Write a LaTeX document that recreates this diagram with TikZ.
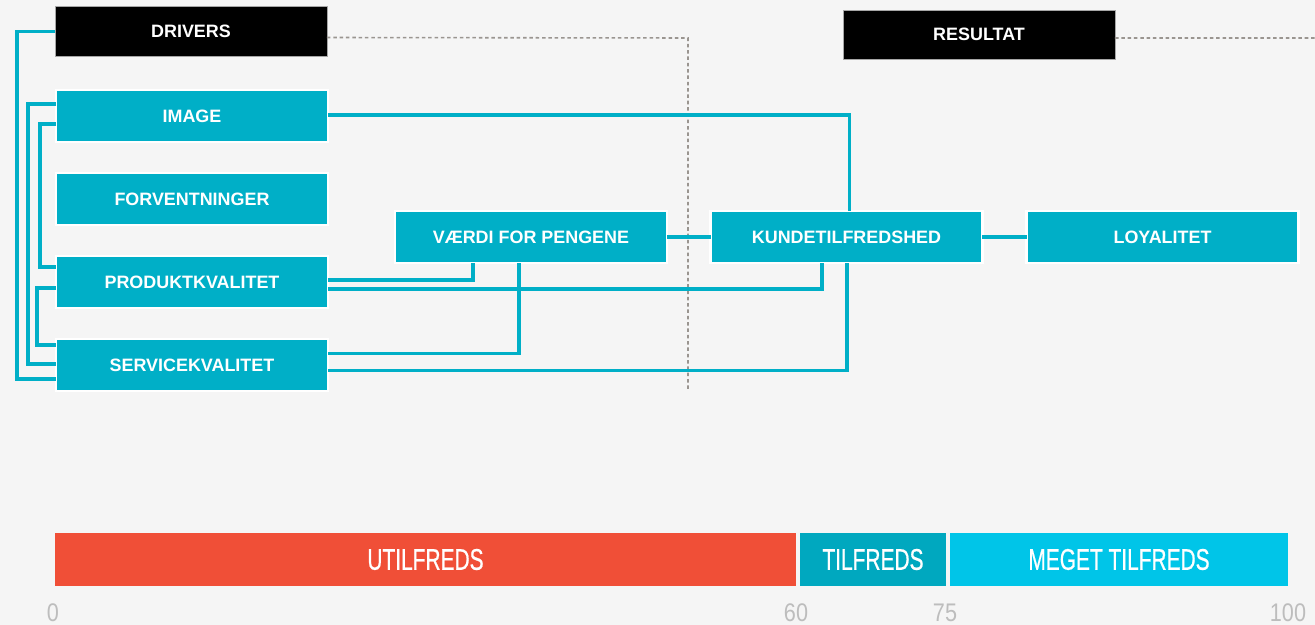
\documentclass[tikz,border=0pt]{standalone}
\usepackage{fontspec}
\setmainfont{Liberation Sans}
\newfontfamily\bandfont{Liberation Sans}[FakeStretch=0.7, FakeBold=0.6]
\newfontfamily\tickfont{Liberation Sans}[FakeStretch=0.85]
\usepackage{tikz}
\usetikzlibrary{positioning, calc}
\definecolor{cteal}{HTML}{00AFC7}
\definecolor{cdark}{HTML}{00A8BF}
\definecolor{clight}{HTML}{00C5E8}
\definecolor{cred}{HTML}{F04F37}
\definecolor{cback}{HTML}{F5F5F5}
\definecolor{cdash}{HTML}{9A9590}
\definecolor{ctick}{HTML}{BDBDBD}
\tikzset{
node distance=0.62cm,
Box/.style={
	draw=white, line width=1.2pt,
	fill=cteal, text=white,
	minimum width=5.44cm, minimum height=1.04cm,
	inner sep=0pt, outer sep=0pt,
	font=\fontsize{10.2}{12}\selectfont\bfseries
},
HeadBox/.style={
	Box,
	fill=black, draw=gray!70, line width=0.5pt,
	minimum height=1.0cm
},
Link/.style={
	draw=cteal, line width=1.8pt
},
Divider/.style={
	draw=cdash, line width=0.9pt,
	dash pattern=on 2pt off 1.6pt
},
Band/.style={
	minimum height=1.06cm, inner sep=0pt, outer sep=0pt,
	text=white, font=\bandfont\fontsize{17}{20}\selectfont
},
Tick/.style={
	text=ctick, inner sep=0pt,
	font=\tickfont\fontsize{14.5}{16}\selectfont
}
}

\begin{document}
\begin{tikzpicture}[x=0.02cm, y=-0.02cm]
	\fill[cback] (0,0) rectangle (1315,625);
	\useasboundingbox (0,0) rectangle (1315,625);

	\node[HeadBox] (Drivers) at (191,31.5) {DRIVERS};
	\node[HeadBox, minimum height=0.98cm] (Resultat) at (979,34.5) {RESULTAT};

	\node[Box] (Image) at (192,116) {IMAGE};
	\node[Box, below=of Image] (Forv) {FORVENTNINGER};
	\node[Box, below=of Forv] (Produkt) {PRODUKTKVALITET};
	\node[Box, below=of Produkt] (Service) {SERVICEKVALITET};

	\node[Box] (Vaerdi) at (531,237) {VÆRDI FOR PENGENE};
	\node[Box] (Kunde) at (846.5,237) {KUNDETILFREDSHED};
	\node[Box] (Loyal) at (1162.5,237) {LOYALITET};

	\coordinate (DivTop) at (688,38);
	\coordinate (DivEnd) at (688,390);
	\coordinate (ResEnd) at (1315,38);
	\draw[Divider] ($(Drivers.east)+(0,6)$) -- (DivTop) -- (DivEnd);
	\draw[Divider] ($(Resultat.east)+(0,3.5)$) -- (ResEnd);

	% left side
	\draw[Link] (Drivers.west) -- ++(-38,0) |- ($(Service.west)+(0,14)$);
	\draw[Link] ($(Image.west)+(0,-12)$) -- ++(-28,0) |- ($(Service.west)+(0,-1)$);
	\draw[Link] ($(Image.west)+(0,8)$) -- ++(-16,0) |- ($(Produkt.west)+(0,-15)$);
	\draw[Link] ($(Produkt.west)+(0,6)$) -- ++(-19,0) |- ($(Service.west)+(0,-20)$);

	% right side
	\draw[Link] ($(Image.east)+(0,-1)$) -| ($(Kunde.north)+(3,0)$);
	\draw[Link] ($(Produkt.east)+(0,-2)$) -| ($(Vaerdi.south)+(-58,0)$);
	\draw[Link] ($(Produkt.east)+(0,7)$) -| ($(Kunde.south)+(-24.5,0)$);
	\draw[Link] ($(Service.east)+(0,-11.5)$) -| ($(Vaerdi.south)+(-12,0)$);
	\draw[Link] ($(Service.east)+(0,5.5)$) -| ($(Kunde.south)+(0.5,0)$);
	\draw[Link] (Vaerdi.east) -- (Kunde.west);
	\draw[Link] (Kunde.east) -- (Loyal.west);

	% scale
	\node[Band, fill=cred, minimum width=14.82cm] (Utilfreds) at (425.5,559.5) {UTILFREDS};
	\node[Band, fill=cdark, minimum width=2.92cm] (Tilfreds) at (873,559.5) {TILFREDS};
	\node[Band, fill=clight, minimum width=6.76cm] (Meget) at (1119,559.5) {MEGET TILFREDS};

	\node[Tick] (T0) at (53,613) {0};
	\node[Tick] (T60) at (796,613) {60};
	\node[Tick] (T75) at (945,613) {75};
	\node[Tick] (T100) at (1288,613) {100};
\end{tikzpicture}
\end{document}
